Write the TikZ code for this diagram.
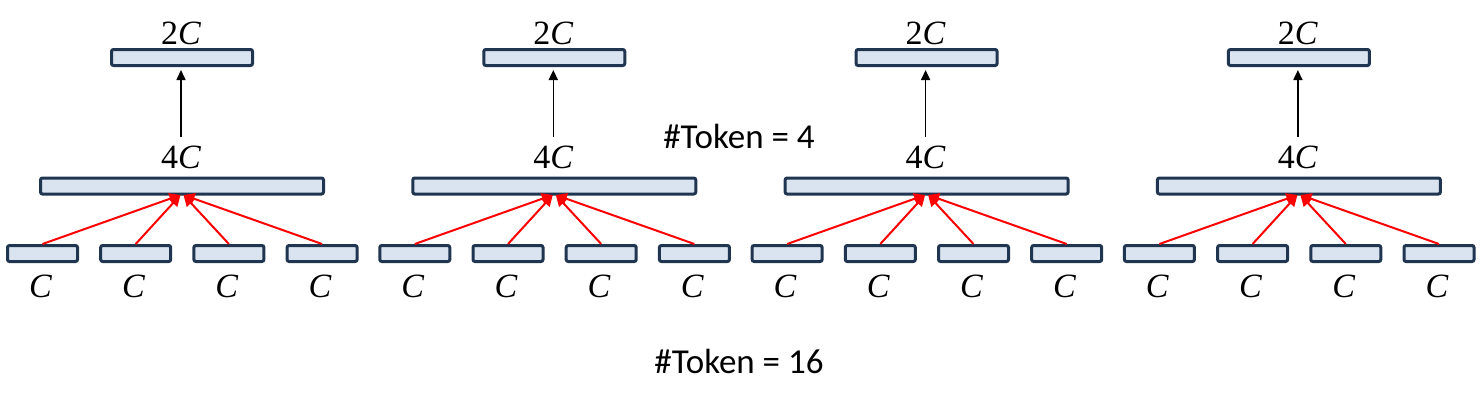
\documentclass[tikz,border=0pt]{standalone}
\usepackage{fontspec}
\setmainfont{Carlito}
\newfontfamily\lmrfont{Liberation Serif}
\usetikzlibrary{arrows.meta}
\definecolor{boxfill}{HTML}{DAE3F0}
\definecolor{boxline}{HTML}{1F3550}
\definecolor{arrred}{HTML}{FF0000}
\tikzset{
  featbox/.style={draw=boxline, fill=boxfill, line width=3pt, rounded corners=2pt, inner sep=0pt, minimum height=16pt},
  topbox/.style={featbox, minimum width=141pt},
  midbox/.style={featbox, minimum width=283pt},
  lowbox/.style={featbox, minimum width=70pt},
  dimlabel/.style={inner sep=0pt, font=\lmrfont\fontsize{34}{40}\selectfont},
  toklabel/.style={inner sep=0pt, font=\fontsize{35}{42}\selectfont},
  redarr/.style={draw=arrred, line width=2pt, -{Triangle[length=11pt,width=11pt]}},
  blkarr/.style={draw=black, line width=1.6pt, -{Triangle[length=10pt,width=9pt]}}
}
\begin{document}
\begin{tikzpicture}[x=1pt,y=-1pt]
\useasboundingbox (0,0) rectangle (1484,407);
\foreach \g in {0,1,2,3}{
  \pgfmathsetmacro{\dx}{\g*372.3}
  \node[topbox] (top\g) at (182+\dx,57.5) {};
  \node[dimlabel] (lab2\g) at (181+\dx,33) {2\textit{C}};
  \node[midbox] (mid\g) at (182+\dx,186) {};
  \node[dimlabel] (lab4\g) at (181+\dx,157) {4\textit{C}};
  \coordinate (as\g) at (181+\dx,137);
  \draw[blkarr, shorten >=3pt] (as\g) -- (top\g.south -| as\g);
  \foreach \i in {0,1,2,3}{
    \node[dimlabel] (c\g-\i) at (40.5+93.2*\i+\dx,286) {\textit{C}};
    \node[lowbox] (b\g-\i) at (42.5+93.2*\i+\dx,253.5) {};
  }
  \coordinate (tl\g) at (180.5+\dx,195);
  \coordinate (tr\g) at (183.5+\dx,195);
  \draw[redarr] (b\g-0.north) -- (tl\g);
  \draw[redarr] (b\g-1.north) -- (tl\g);
  \draw[redarr] (b\g-2.north) -- (tr\g);
  \draw[redarr] (b\g-3.north) -- (tr\g);
}
\node[toklabel] (tok4) at (739,136) {\#Token = 4};
\node[toklabel] (tok16) at (739,361) {\#Token = 16};
\end{tikzpicture}
\end{document}
